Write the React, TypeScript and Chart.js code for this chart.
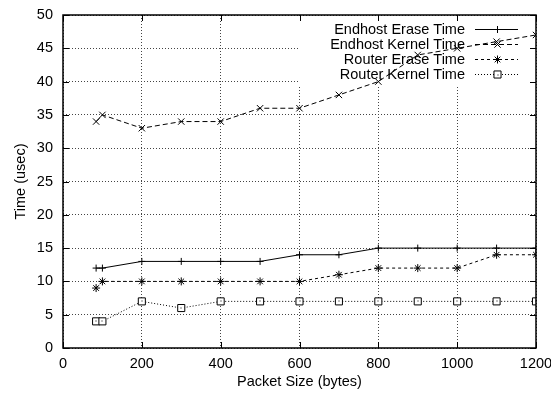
import React, { useEffect, useRef } from "react";
import { Chart, registerables } from "chart.js";
import { drawPoint } from "chart.js/helpers";

Chart.register(...registerables);

const packetSizes = [84, 100, 200, 300, 400, 500, 600, 700, 800, 900, 1000, 1100, 1200];
const endhostErase = [12, 12, 13, 13, 13, 13, 14, 14, 15, 15, 15, 15, 15];
const endhostKernel = [34, 35, 33, 34, 34, 36, 36, 38, 40, 44, 45, 46, 47];
const routerErase = [9, 10, 10, 10, 10, 10, 10, 11, 12, 12, 12, 14, 14];
const routerKernel = [4, 4, 7, 6, 7, 7, 7, 7, 7, 7, 7, 7, 7];
const seriesNames = ["Endhost Erase Time", "Endhost Kernel Time", "Router Erase Time", "Router Kernel Time"];
const xTitle = "Packet Size (bytes)";
const yTitle = "Time (usec)";

const FONT = "'Liberation Sans', Arial, Helvetica, sans-serif";
const FS = 14.5;

const styles = [
  { dash: [] as number[], point: "cross", radius: 3.5 },
  { dash: [5, 3], point: "crossRot", radius: 4.5 },
  { dash: [3, 3], point: "star", radius: 4 },
  { dash: [1, 2], point: "rect", radius: 5 },
];

function drawMarker(ctx: any, i: number, x: number, y: number) {
  ctx.save();
  ctx.setLineDash([]);
  ctx.strokeStyle = "#000";
  ctx.fillStyle = "#fff";
  ctx.lineWidth = 1;
  drawPoint(ctx, { pointStyle: styles[i].point as any, radius: styles[i].radius, rotation: 0, borderWidth: 1 } as any, x, y);
  if (styles[i].point === "rect") {
    ctx.fillStyle = "#000";
    ctx.fillRect(Math.round(x) - 0.5, Math.round(y) - 0.5, 1, 1);
  }
  ctx.restore();
}

const gnuplotPlugin = {
  id: "gnuplotDecor",
  beforeDatasetsDraw(chart: any) {
    const { ctx, chartArea } = chart;
    ctx.save();
    ctx.fillStyle = "#fff";
    ctx.fillRect(298, chartArea.top + 1, chartArea.right - 298 - 1, 85 - chartArea.top);
    ctx.font = `${FS}px ${FONT}`;
    ctx.textAlign = "right";
    ctx.textBaseline = "middle";
    const rowY = [29, 44, 59, 74];
    seriesNames.forEach((name, i) => {
      const y = rowY[i];
      ctx.fillStyle = "#000";
      ctx.fillText(name, 465, y + 1);
      ctx.strokeStyle = "#000";
      ctx.lineWidth = 1;
      ctx.setLineDash(styles[i].dash);
      ctx.beginPath();
      ctx.moveTo(475, y + 0.5);
      ctx.lineTo(518, y + 0.5);
      ctx.stroke();
      ctx.setLineDash([]);
      drawMarker(ctx, i, 497.5, y + 0.5);
    });
    ctx.restore();
  },
  afterDatasetsDraw(chart: any) {
    const { ctx } = chart;
    const meta = chart.getDatasetMeta(3);
    ctx.save();
    ctx.fillStyle = "#000";
    meta.data.forEach((p: any) => {
      ctx.fillRect(Math.round(p.x) - 0.5, Math.round(p.y) - 0.5, 1, 1);
    });
    ctx.restore();
  },
  afterDraw(chart: any) {
    const { ctx, chartArea } = chart;
    const { left, right, top, bottom } = chartArea;
    const xs = chart.scales.x;
    const ys = chart.scales.y;
    ctx.save();
    ctx.strokeStyle = "#000";
    ctx.lineWidth = 1;
    ctx.setLineDash([]);
    const tl = 6;
    ctx.beginPath();
    xs.ticks.forEach((t: any) => {
      const px = Math.round(xs.getPixelForValue(t.value)) + 0.5;
      ctx.moveTo(px, bottom);
      ctx.lineTo(px, bottom - tl);
      ctx.moveTo(px, top);
      ctx.lineTo(px, top + tl);
    });
    ys.ticks.forEach((t: any) => {
      const py = Math.round(ys.getPixelForValue(t.value)) + 0.5;
      ctx.moveTo(left, py);
      ctx.lineTo(left + tl, py);
      ctx.moveTo(right, py);
      ctx.lineTo(right - tl, py);
    });
    ctx.stroke();
    ctx.lineWidth = 1.5;
    ctx.strokeRect(left, top, right - left, bottom - top);
    ctx.restore();
  },
};

export default function App() {
  const ref = useRef<HTMLCanvasElement | null>(null);
  useEffect(() => {
    document.body.style.margin = "0";
    const canvas = ref.current!;
    const seriesData = [endhostErase, endhostKernel, routerErase, routerKernel];
    const datasets = seriesData.map((arr, i) => ({
      label: seriesNames[i],
      data: packetSizes.map((x, j) => ({ x, y: arr[j] })),
      borderColor: "#000",
      borderWidth: 1,
      borderDash: styles[i].dash,
      pointStyle: styles[i].point as any,
      pointRadius: styles[i].radius,
      pointBorderColor: "#000",
      pointBackgroundColor: styles[i].point === "rect" ? "#fff" : "rgba(0,0,0,0)",
      pointBorderWidth: 1,
      fill: false,
      tension: 0,
    }));
    const chart = new Chart(canvas, {
      type: "line",
      data: { datasets },
      options: {
        animation: false,
        responsive: false,
        devicePixelRatio: 1,
        layout: { padding: { top: 15, right: 15, left: 0, bottom: 0 } },
        plugins: { legend: { display: false }, tooltip: { enabled: false } },
        scales: {
          x: {
            type: "linear",
            min: 0,
            max: 1200,
            ticks: {
              stepSize: 200,
              color: "#000",
              font: { family: FONT, size: FS },
              padding: 7,
              maxRotation: 0,
              callback: (v: any) => String(v),
            },
            grid: { color: "#444", drawTicks: false, tickLength: 0 },
            border: { display: false, dash: [1, 2] },
            title: { display: true, text: xTitle, color: "#000", font: { family: FONT, size: FS }, padding: { top: 0, bottom: 5 } },
            afterFit: (s: any) => { s.height = 48; s.paddingLeft = 0; s.paddingRight = 0; },
          },
          y: {
            min: 0,
            max: 50,
            ticks: { stepSize: 5, color: "#000", font: { family: FONT, size: FS }, padding: 10 },
            grid: { color: "#444", drawTicks: false, tickLength: 0 },
            border: { display: false, dash: [1, 2] },
            title: { display: true, text: yTitle, color: "#000", font: { family: FONT, size: FS }, padding: { top: 12, bottom: 0 } },
            afterFit: (s: any) => { s.width = 63; s.paddingTop = 0; s.paddingBottom = 0; },
          },
        },
      },
      plugins: [gnuplotPlugin],
    });
    return () => chart.destroy();
  }, []);
  return <canvas ref={ref} width={551} height={396} style={{ display: "block", width: 551, height: 396 }} />;
}
